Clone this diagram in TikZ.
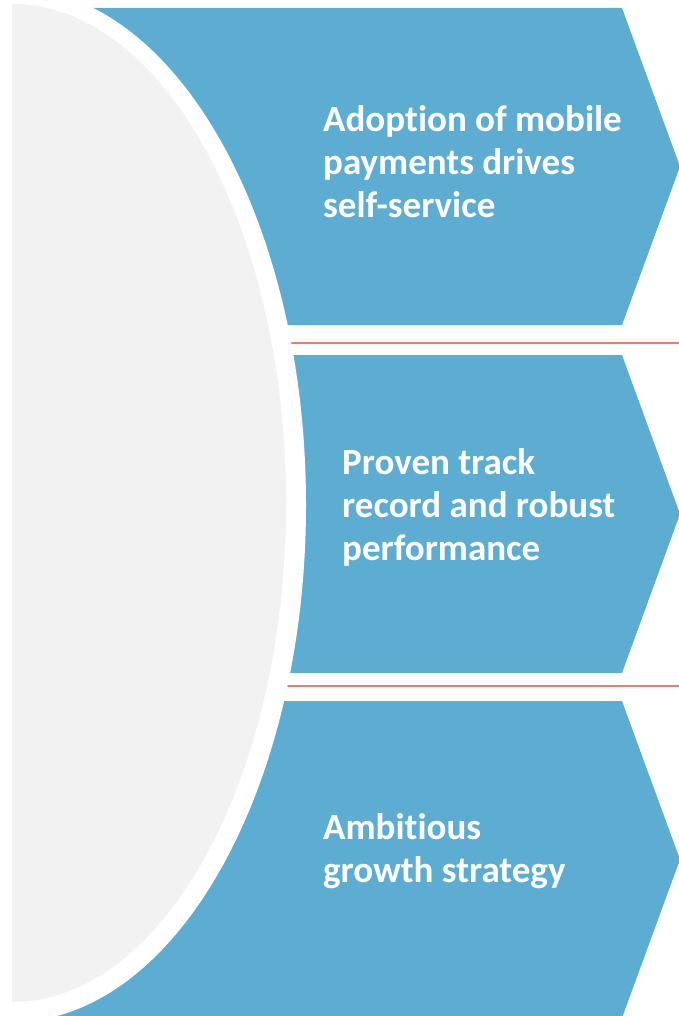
\documentclass[tikz,border=0pt]{standalone}
\usepackage{fontspec}
\setmainfont{Carlito}[Ligatures={NoCommon}]

\definecolor{panelblue}{RGB}{93,173,211}
\definecolor{halfgray}{RGB}{242,242,242}
\definecolor{rulered}{RGB}{240,123,108}

\tikzset{
    panel text/.style = {anchor=base west, align=left, text=white, inner sep=0pt,
        font=\fontsize{37}{43}\selectfont\bfseries},
}

\begin{document}
\begin{tikzpicture}[x=1pt, y=-1pt]

    \useasboundingbox (0, 0) rectangle (679, 1016);

    % three arrow panels
    \foreach \t/\b in {8/325, 355/673, 701/1018}
        \fill[panelblue]
            (0, \t) -- (622, \t) -- (680, {(\t+\b)/2}) -- (622, \b) -- (0, \b) -- cycle;

    % separators between the panels
    \coordinate (sepa) at (0, 343);
    \coordinate (sepb) at (0, 686);
    \draw[rulered, line width = 2pt] (sepa) -- (sepa -| 679, 0);
    \draw[rulered, line width = 2pt] (sepb) -- (sepb -| 679, 0);

    % white gap and grey half ellipse
    \fill[white] (12, 505) ellipse [x radius = 294, y radius = 517];
    \fill[halfgray]
        (12, 1002) arc [start angle = 90, end angle = -90, x radius = 274, y radius = 499] -- cycle;

    % base anchor sits on the last line
    \node[panel text] (adopt) at (323, 218)
        {Adoption of mobile\\payments drives\\self-service};
    \node[panel text] (proven) at (342, 560)
        {Proven track\\record and robust\\performance};
    \node[panel text] (growth) at (323, 882)
        {Ambitious\\growth strategy};

\end{tikzpicture}
\end{document}
